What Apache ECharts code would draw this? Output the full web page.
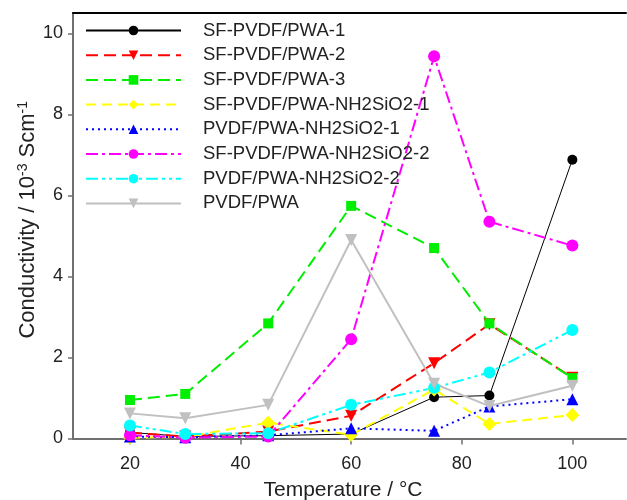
<!DOCTYPE html>
<html>
<head>
<meta charset="utf-8">
<script src="https://cdn.jsdelivr.net/npm/echarts@6/dist/echarts.min.js"></script>
<style>
  html, body { margin: 0; padding: 0; background: #fff; }
  #chart { width: 627px; height: 500px; }
</style>
</head>
<body>
<div id="chart"></div>
<script>
// temperatures (°C) and conductivity (10^-3 S/cm)
const temps = [20, 30, 45, 60, 75, 85, 100];
const sfPwa1 = [0.15, 0.05, 0.07, 0.11, 1.02, 1.06, 6.88];
const sfPwa2 = [0.14, 0.05, 0.17, 0.56, 1.86, 2.82, 1.50];
const sfPwa3 = [0.95, 1.10, 2.84, 5.74, 4.70, 2.84, 1.49];
const sfNh1 = [0.02, 0.04, 0.39, 0.09, 1.21, 0.36, 0.58];
const pvdfNh1 = [0.05, 0.03, 0.08, 0.25, 0.19, 0.79, 0.97];
const sfNh2 = [0.08, 0.02, 0.05, 2.45, 9.43, 5.35, 4.76];
const pvdfNh2 = [0.32, 0.11, 0.13, 0.83, 1.25, 1.63, 2.68];
const pvdfPwa = [0.62, 0.50, 0.83, 4.90, 1.35, 0.80, 1.30];

const xTicks = [20, 40, 60, 80, 100];
const yTicks = [0, 2, 4, 6, 8, 10];

const font = '"Liberation Sans", Arial, sans-serif';

function pairs(vals) {
  return temps.map((t, i) => [t, vals[i]]);
}

// name, values, colour, symbol, size, rotate, dash, width
function mkSeries(name, vals, color, symbol, size, rot, dash, width) {
  return {
    name: name,
    type: 'line',
    data: pairs(vals),
    symbol: symbol,
    symbolSize: size,
    symbolRotate: rot,
    showAllSymbol: true,
    color: color,
    itemStyle: { color: color },
    lineStyle: { color: color, width: width, type: dash },
    emphasis: { disabled: true },
    animation: false
  };
}

const series = [
  mkSeries('SF-PVDF/PWA-1', sfPwa1, '#000000', 'circle', 10, 0, 'solid', 1),
  mkSeries('SF-PVDF/PWA-2', sfPwa2, '#ff0000', 'triangle', 12, 180, [12, 6], 2),
  mkSeries('SF-PVDF/PWA-3', sfPwa3, '#00ee00', 'rect', 10, 0, [12, 6], 2),
  mkSeries('SF-PVDF/PWA-NH2SiO2-1', sfNh1, '#ffff00', 'diamond', 14, 0, [10, 6], 2),
  mkSeries('PVDF/PWA-NH2SiO2-1', pvdfNh1, '#0000ff', 'triangle', 12, 0, [2, 4], 2),
  mkSeries('SF-PVDF/PWA-NH2SiO2-2', sfNh2, '#ff00ff', 'circle', 12, 0, [12, 4, 3, 4], 2),
  mkSeries('PVDF/PWA-NH2SiO2-2', pvdfNh2, '#00ffff', 'circle', 12, 0, [12, 4, 3, 4, 3, 4], 2),
  mkSeries('PVDF/PWA', pvdfPwa, '#c0c0c0', 'triangle', 12, 180, 'solid', 2)
];

const chart = echarts.init(document.getElementById('chart'));
chart.setOption({
  backgroundColor: '#fff',
  animation: false,
  textStyle: { fontFamily: font },
  grid: { left: 73, top: 13, right: 1, bottom: 61.5, containLabel: false, outerBoundsMode: 'none' },
  legend: {
    orient: 'vertical',
    left: 80,
    top: 16,
    itemWidth: 95,
    itemHeight: 12,
    itemGap: 5.7,
    selectedMode: false,
    data: series.map(s => s.name),
    textStyle: { fontSize: 18.5, color: '#222', fontFamily: font, lineHeight: 18, padding: [0, 0, 0, 17] }
  },
  xAxis: [{
    type: 'value',
    min: 9.7,
    max: 109.7,
    name: 'Temperature / °C',
    nameLocation: 'middle',
    nameGap: 41,
    nameMoveOverlap: false,
    nameTextStyle: { fontSize: 21, color: '#222', fontFamily: font, padding: [0, 13, 0, 0] },
    axisLine: { show: true, onZero: false, lineStyle: { color: '#707070', width: 2 } },
    axisTick: { show: true, inside: false, length: 6, customValues: xTicks, lineStyle: { color: '#707070', width: 1.5 } },
    axisLabel: { show: true, fontSize: 18, color: '#222', margin: 17, customValues: xTicks },
    splitLine: { show: false }
  }, {
    type: 'value',
    position: 'top',
    min: 9.7,
    max: 109.7,
    axisLine: { show: true, onZero: false, lineStyle: { color: '#000', width: 2 } },
    axisTick: { show: false },
    axisLabel: { show: false },
    splitLine: { show: false }
  }],
  yAxis: {
    type: 'value',
    min: 0,
    max: 10.5,
    name: 'Conductivity / 10{sup|-3} Scm{sup|-1}',
    nameLocation: 'middle',
    nameGap: 34,
    nameMoveOverlap: false,
    nameTextStyle: {
      fontSize: 22,
      color: '#222',
      fontFamily: font,
      padding: [0, 0, 0, 12],
      rich: {
        sup: { fontSize: 14, color: '#222', fontFamily: font, verticalAlign: 'top', padding: [0, 0, 9, 0] }
      }
    },
    axisLine: { show: true, onZero: false, lineStyle: { color: '#707070', width: 2 } },
    axisTick: { show: true, inside: false, length: 5, customValues: yTicks, lineStyle: { color: '#707070', width: 1.5 } },
    axisLabel: { show: true, fontSize: 18, color: '#222', margin: 10, customValues: yTicks },
    splitLine: { show: false }
  },
  series: series
});
</script>
</body>
</html>
